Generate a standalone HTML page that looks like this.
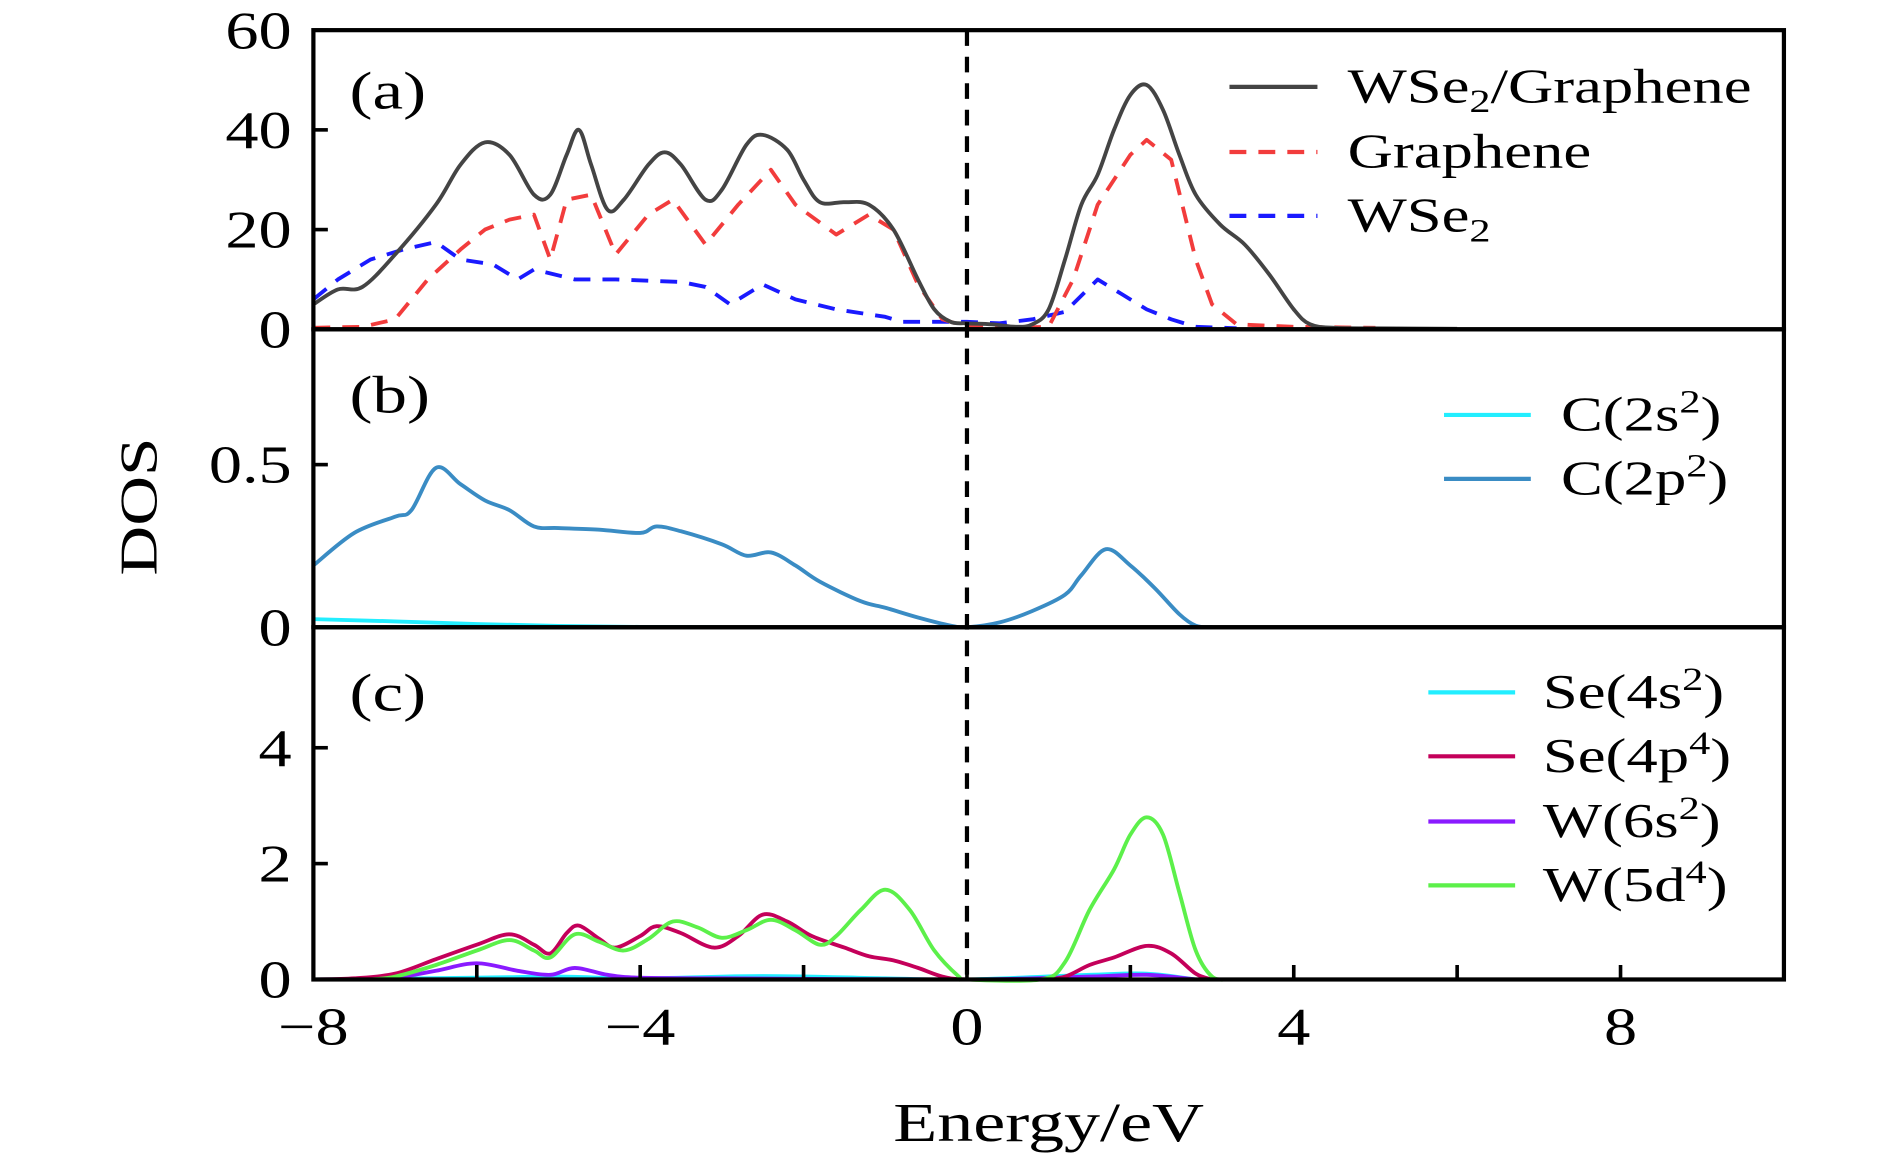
<!DOCTYPE html>
<html><head><meta charset="utf-8"><style>
html,body{margin:0;padding:0;background:#fff;}
svg{display:block;font-family:"Liberation Serif",serif;}
</style></head><body>
<svg id="c" width="1890" height="1158" viewBox="0 0 1568 960" preserveAspectRatio="none" xmlns="http://www.w3.org/2000/svg"></svg>
<script>
// ---- data ----
const totE=[-8,-7.7,-7.4,-7,-6.5,-6.2,-5.9,-5.6,-5.3,-5.1,-4.9,-4.75,-4.6,-4.4,-4.2,-3.9,-3.7,-3.5,-3.2,-3.0,-2.7,-2.5,-2.2,-2.0,-1.8,-1.5,-1.2,-0.9,-0.6,-0.4,-0.2,0,0.3,0.6,0.8,1.0,1.2,1.4,1.6,1.8,2.0,2.2,2.4,2.6,2.8,3.1,3.4,3.7,4.0,4.2,4.5,5,6];
const totV=[5,8,8.5,15,25,33,37.5,35,27,27,35,40,33,24,26,33,35.5,33,26,28,37,39,36,30,25.5,25.5,25,20,10,4,1.5,1.2,1,0.5,1,4,14,25,31,40,47,49,44,35,27,21,17,11,4,1,0.3,0.2,0.1];
const grE=[-8,-7.4,-7.0,-6.6,-6.2,-5.9,-5.6,-5.3,-5.1,-4.9,-4.6,-4.3,-3.9,-3.6,-3.2,-2.8,-2.4,-2.1,-1.6,-1.2,-0.9,-0.6,-0.3,0,0.5,1.0,1.3,1.6,2.0,2.2,2.5,2.8,3.0,3.3,4,5];
const grV=[0.3,0.5,2,10,16,20,22,23,14,26,27,15,23,26,17,25,32,25,19,23,20,9,2,0.5,0.3,0.5,10,25,35,38,34,14,5,1,0.5,0.3];
const wsE=[-8,-7.7,-7.3,-6.9,-6.5,-6.2,-5.8,-5.5,-5.3,-4.8,-4.3,-3.5,-3.2,-2.9,-2.5,-2.1,-1.6,-1.0,-0.8,-0.3,0,0.4,0.8,1.2,1.6,1.9,2.2,2.5,2.8,3.3];
const wsV=[6,10,14,16,17.5,14,13,10,12,10,10,9.5,8.5,5,9,6,4,2.5,1.5,1.5,1.5,1.2,2,3.5,10,7,4,2,0.5,0.2];
const c2pE=[-8,-7.5,-7.0,-6.8,-6.5,-6.2,-5.9,-5.6,-5.3,-5,-4.5,-4.0,-3.8,-3.5,-3.0,-2.7,-2.4,-2.1,-1.8,-1.3,-1.0,-0.6,-0.2,0,0.4,0.8,1.2,1.4,1.7,2.0,2.3,2.6,2.8,3.0];
const c2pV=[0.19,0.29,0.34,0.36,0.49,0.44,0.39,0.36,0.31,0.305,0.30,0.29,0.31,0.295,0.255,0.22,0.23,0.19,0.14,0.08,0.06,0.03,0.005,0,0.015,0.05,0.1,0.16,0.24,0.19,0.12,0.04,0.005,0];
const c2sE=[-8,-7,-6,-5,-4,-3];
const c2sV=[0.025,0.018,0.01,0.004,0.001,0];
const se4pE=[-8,-7.5,-7,-6.5,-6,-5.6,-5.3,-5.1,-4.9,-4.75,-4.5,-4.3,-4,-3.8,-3.5,-3.1,-2.8,-2.5,-2.2,-1.9,-1.5,-1.2,-0.9,-0.6,-0.3,0,0.9,1.2,1.5,1.8,2.2,2.5,2.8,3.0];
const se4pV=[0,0.02,0.1,0.35,0.6,0.78,0.6,0.45,0.8,0.93,0.7,0.55,0.75,0.92,0.8,0.55,0.75,1.12,1.0,0.75,0.55,0.4,0.33,0.2,0.05,0,0,0.05,0.25,0.38,0.58,0.45,0.1,0];
const w5dE=[-7.3,-7,-6.5,-6,-5.6,-5.3,-5.1,-4.8,-4.5,-4.2,-3.9,-3.6,-3.3,-3.0,-2.7,-2.4,-2.1,-1.8,-1.6,-1.3,-1.0,-0.7,-0.4,-0.1,0,0.9,1.2,1.5,1.8,2.0,2.2,2.4,2.6,2.8,3.0,3.2];
const w5dV=[0,0.05,0.25,0.5,0.68,0.5,0.38,0.78,0.65,0.5,0.7,1.0,0.9,0.72,0.85,1.03,0.85,0.6,0.75,1.2,1.55,1.2,0.5,0.05,0,0,0.3,1.2,1.9,2.5,2.8,2.5,1.5,0.5,0.05,0];
const w6sE=[-7,-6.5,-6.0,-5.5,-5.1,-4.8,-4.4,-4,-3,0,1.5,2.2,2.8];
const w6sV=[0.02,0.15,0.28,0.15,0.08,0.2,0.08,0.03,0.02,0,0.05,0.08,0];
const se4sE=[-8,-6,-5,-4,-2.5,-1,0,1.5,2.2,2.8];
const se4sV=[0,0.03,0.05,0.02,0.06,0.02,0,0.08,0.1,0];
const xTicks=[-8,-4,0,4,8];
const xTickLabels=["\u22128","\u22124","0","4","8"];
const xMinor=[-6,-2,2,6];
const aTicks=[0,20,40,60], bTicks=[0,0.5], cTicks=[0,2,4];
const bTickLabels=["0","0.5"];

// ---- layout ----
const L=260,R=1480,T=25;
const panels={a:{top:25,bot:273,max:60},b:{top:273,bot:520,max:0.916},c:{top:520,bot:812,max:6.08}};
const X=e=>L+(e+8)*(R-L)/18;
const Y=(p,v)=>{const q=panels[p];return q.bot-v*(q.bot-q.top)/q.max;};
const svg=document.getElementById('c');
const NS='http://www.w3.org/2000/svg';
function mk(tag,attrs,parent){const el=document.createElementNS(NS,tag);for(const k in attrs)el.setAttribute(k,attrs[k]);(parent||svg).appendChild(el);return el;}
function smooth(pts){let d='M'+pts[0][0]+','+pts[0][1];for(let i=0;i<pts.length-1;i++){const p0=pts[i-1]||pts[i],p1=pts[i],p2=pts[i+1],p3=pts[i+2]||p2;const c1x=p1[0]+(p2[0]-p0[0])/6,c1y=p1[1]+(p2[1]-p0[1])/6,c2x=p2[0]-(p3[0]-p1[0])/6,c2y=p2[1]-(p3[1]-p1[1])/6;d+=`C${c1x},${c1y} ${c2x},${c2y} ${p2[0]},${p2[1]}`;}return d;}
function line(pts){return 'M'+pts.map(p=>p[0]+','+p[1]).join('L');}
function series(p,E,V,color,name,dash,sm){const pts=E.map((e,i)=>[X(e),Y(p,V[i])]);const el=mk('path',{d:sm?smooth(pts):line(pts),fill:'none',stroke:color,'stroke-width':3.2,'stroke-linejoin':'round'});if(dash)el.setAttribute('stroke-dasharray',dash);

}

series('a',wsE,wsV,'#1a1aff','wse2-line','14,10',false);
series('a',grE,grV,'#f23c3c','graphene-line','14,10',false);
series('a',totE,totV,'#444','wse2-graphene-line',null,true);
series('b',c2sE,c2sV,'#22eeff','c2s-line',null,true);
series('b',c2pE,c2pV,'#3a8cc4','c2p-line',null,true);
series('c',se4sE,se4sV,'#22eeff','se4s-line',null,true);
series('c',w6sE,w6sV,'#8a1aff','w6s-line',null,true);
series('c',se4pE,se4pV,'#c4005a','se4p-line',null,true);
series('c',w5dE,w5dV,'#5cf04a','w5d-line',null,true);

// fermi line
let f=mk('line',{x1:X(0),x2:X(0),y1:T,y2:812,stroke:'#000','stroke-width':3.5,'stroke-dasharray':'13,9'});



// frames
for(const p in panels){const q=panels[p];let r=mk('rect',{x:L,y:q.top,width:R-L,height:q.bot-q.top,fill:'none',stroke:'#000','stroke-width':3.5});

}

// text with horizontal stretch around anchor point
function txt(x,y,s,size,anchor,name,sx,rot){const g=mk('g',{transform:`translate(${x},${y})`+(rot?` rotate(${rot})`:'')+` scale(${sx||1.3},1)`});const t=mk('text',{x:0,y:0,'font-size':size,'text-anchor':anchor||'start'},g);t.innerHTML=s;

return t;}

// y ticks
function yt(p,ticks,labels){ticks.forEach((v,i)=>{const y=Y(p,v);let tk=mk('line',{x1:L,x2:L+12,y1:y,y2:y,stroke:'#000','stroke-width':3});


txt(L-18,y+15,labels?labels[i]:String(v),44,'end','y-tick-label-'+p,1.25);});}
yt('a',aTicks);yt('b',bTicks,bTickLabels);yt('c',cTicks);
// x ticks
xTicks.forEach((e,i)=>{const x=X(e);let tk=mk('line',{x1:x,x2:x,y1:812,y2:800,stroke:'#000','stroke-width':3});


txt(x,866,xTickLabels[i],44,'middle','x-tick-label',1.25);});
xMinor.forEach(e=>{const x=X(e);let tk=mk('line',{x1:x,x2:x,y1:812,y2:800,stroke:'#000','stroke-width':3});

});

txt(870,946,'Energy/eV',46,'middle','x-axis-title',1.3);
txt(130,420,'DOS',44,'middle','y-axis-title',1.3,-90);
txt(290,90,'(a)',44,'start','panel-a-label',1.3);
txt(290,342,'(b)',44,'start','panel-b-label',1.3);
txt(290,589,'(c)',44,'start','panel-c-label',1.3);

// legends
function leg(x1,x2,tx,y,color,label,dash,name){let l=mk('line',{x1:x1,x2:x2,y1:y,y2:y,stroke:color,'stroke-width':3.5});if(dash)l.setAttribute('stroke-dasharray',dash);


txt(tx,y+13,label,40,'start',name+'-label',1.3);}
const sub=s=>`<tspan font-size="27" dy="8">${s}</tspan>`;
const sup=s=>`<tspan font-size="27" dy="-15">${s}</tspan><tspan dy="15">)</tspan>`;
leg(1020,1093,1118,72,'#444','WSe'+sub('2')+'<tspan dy="-8">/Graphene</tspan>',null,'legend-wse2-graphene');
leg(1020,1093,1118,126,'#f23c3c','Graphene','14,10','legend-graphene');
leg(1020,1093,1118,179,'#1a1aff','WSe'+sub('2'),'14,10','legend-wse2');
leg(1198,1270,1295,344,'#22eeff','C(2s'+sup('2'),null,'legend-c2s');
leg(1198,1270,1295,397,'#3a8cc4','C(2p'+sup('2'),null,'legend-c2p');
leg(1185,1257,1280,574,'#22eeff','Se(4s'+sup('2'),null,'legend-se4s');
leg(1185,1257,1280,627,'#c4005a','Se(4p'+sup('4'),null,'legend-se4p');
leg(1185,1257,1280,681,'#8a1aff','W(6s'+sup('2'),null,'legend-w6s');
leg(1185,1257,1280,734,'#5cf04a','W(5d'+sup('4'),null,'legend-w5d');
</script>
</body></html>
